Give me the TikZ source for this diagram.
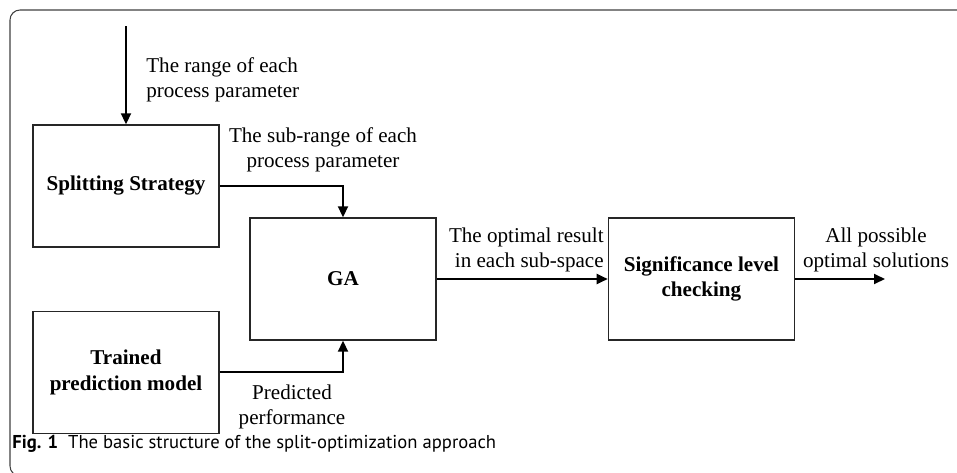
\documentclass[tikz,border=0pt]{standalone}
\usepackage{fontspec}
\setmainfont{Liberation Serif}
\newfontfamily\capfont{PT Sans}
\usetikzlibrary{positioning,arrows.meta}

\begin{document}
\begin{tikzpicture}
\tikzstyle{box}=[rectangle, draw=black!85, line width=0.8pt, minimum width=3.72cm, minimum height=2.44cm, align=center, font=\bfseries]
\tikzstyle{connect}=[-{Triangle[length=2.2mm,width=2mm]}, line width=1.1pt]
\tikzstyle{lbl}=[inner sep=0pt, align=center]
\tikzstyle{frame}=[draw=black!75, line width=0.6pt, rounded corners=2mm]
  \useasboundingbox (0,0) rectangle (19.14,-9.44);
  \fontsize{12}{14.3}\selectfont
  % outer frame
  \draw[frame] (1,-9.52) -- (0.2,-9.52) -- (0.2,-0.2) -- (19.6,-0.2);
  % blocks
  \node[box] (split) at (2.52,-3.72) {Splitting Strategy};
  \node[box] (train) [below=1.26cm of split] {Trained\\prediction model};
  \node[box] (ga) at (6.86,-5.58) {GA};
  \node[box] (sig) [right=3.42cm of ga] {Significance level\\checking};
  \coordinate (in) at (2.52,-0.52);
  \coordinate (out) at (17.7,-5.58);
  % connectors
  \draw[connect] (in) -- (split.north);
  \draw[connect] (split.east) -| (ga.north);
  \draw[connect] (train.east) -| (ga.south);
  \draw[connect] (ga.east) -- (ga.east -| sig.west);
  \draw[connect] (sig.east) -- (out);
  % labels
  \node[lbl, anchor=west, align=left] (range) at (2.92,-1.59) {The range of each\\process parameter};
  \node[lbl] (subrange) at (6.46,-2.99) {The sub-range of each\\process parameter};
  \node[lbl, anchor=east, align=right] (optres) at (12.08,-4.99) {The optimal result\\in each sub-space};
  \node[lbl] (allsol) at (17.52,-4.99) {All possible\\optimal solutions};
  \node[lbl] (pred) at (5.84,-8.14) {Predicted\\performance};
  % caption
  \node[inner sep=0pt, anchor=base west, font=\capfont\fontsize{10.6}{12}\selectfont] (cap) at (0.24,-8.96) {\textbf{Fig. 1}\ \ The basic structure of the split-optimization approach};
\end{tikzpicture}
\end{document}
